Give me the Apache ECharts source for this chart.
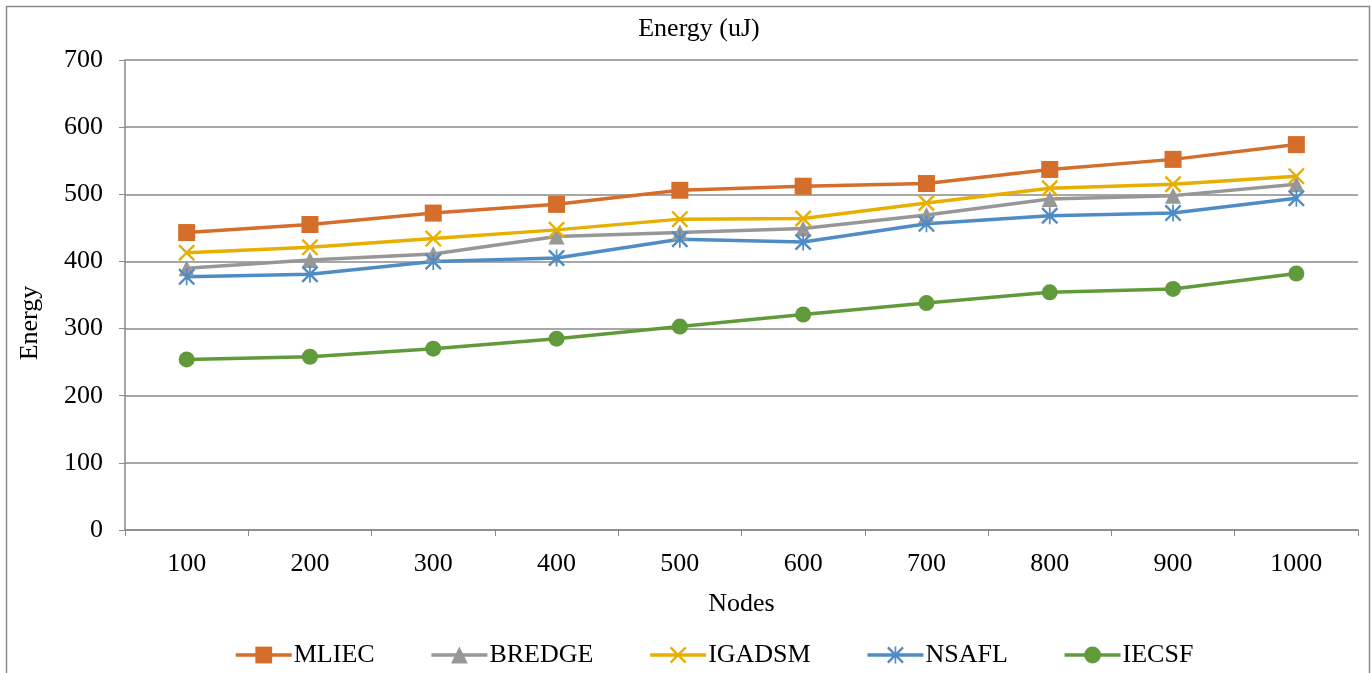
<!DOCTYPE html>
<html>
<head>
<meta charset="utf-8">
<script src="https://cdn.jsdelivr.net/npm/echarts@6/dist/echarts.min.js"></script>
<style>html,body{margin:0;padding:0;background:#fff}#c{width:1371px;height:673px}</style>
</head>
<body>
<div id="c"></div>
<script>
const categories = ['100','200','300','400','500','600','700','800','900','1000'];
const MLIEC  = [443, 455, 472, 485, 506, 512, 516, 537, 552, 574];
const BREDGE = [390, 402, 411, 437, 443, 449, 469, 493, 498, 515];
const IGADSM = [413, 421, 434, 447, 463, 464, 487, 509, 515, 527];
const NSAFL  = [377, 381, 400, 405, 433, 429, 456, 468, 472, 494];
const IECSF  = [254, 258, 270, 285, 303, 321, 338, 354, 359, 382];
const seriesNames = ['MLIEC','BREDGE','IGADSM','NSAFL','IECSF'];
const yTicks = [0, 700, 100];

const FONT = '"Liberation Serif", "Times New Roman", serif';
const xSym = 'path://M0,1 L1,0 L10,9 L9,10 Z M9,0 L10,1 L1,10 L0,9 Z';
const starSym = 'path://M0,1 L1,0 L10,9 L9,10 Z M9,0 L10,1 L1,10 L0,9 Z M4.5,0 L5.5,0 L5.5,10 L4.5,10 Z';

function mk(name, data, color, symbol, size) {
  return {
    name, type: 'line', data,
    symbol, symbolSize: size,
    showAllSymbol: true,
    lineStyle: { color, width: 3.5 },
    itemStyle: { color },
    emphasis: { disabled: true },
    animation: false
  };
}

const chart = echarts.init(document.getElementById('c'), null, { renderer: 'canvas' });
chart.setOption({
  animation: false,
  backgroundColor: '#fff',
  textStyle: { fontFamily: FONT, color: '#000' },
  title: {
    text: 'Energy (uJ)', top: 11, left: 694, textAlign: 'center',
    textStyle: { fontFamily: FONT, fontSize: 26, fontWeight: 'normal', color: '#000' }
  },
  graphic: [{
    type: 'rect', left: 4, top: 4, shape: { width: 1363, height: 700 },
    style: { fill: 'none', stroke: '#8a8a8a', lineWidth: 1.5 }, silent: true, z: -1
  }, {
    type: 'text', x: 30, y: 323, rotation: Math.PI / 2,
    style: { text: 'Energy', fill: '#000', font: '26px ' + FONT, align: 'center', verticalAlign: 'middle' },
    silent: true
  }],
  grid: { left: 125, right: 13, top: 60, bottom: 143, containLabel: false },
  legend: {
    left: 229, bottom: 0,
    itemWidth: 56, itemHeight: 21, itemGap: 55,
    lineStyle: { width: 3.5 },
    textStyle: { fontFamily: FONT, fontSize: 26, color: '#000', padding: [0,0,0,-3] },
    data: seriesNames
  },
  xAxis: {
    type: 'category', data: categories, boundaryGap: true,
    name: 'Nodes', nameLocation: 'middle', nameGap: 61,
    nameTextStyle: { fontFamily: FONT, fontSize: 26, color: '#000' },
    axisLine: { lineStyle: { color: '#8a8a8a', width: 1.5 } },
    axisTick: { show: true, length: 6, interval: 0, lineStyle: { color: '#8a8a8a' } },
    axisLabel: { fontFamily: FONT, fontSize: 26, color: '#000', margin: 21, interval: 0 },
    splitLine: { show: false }
  },
  yAxis: {
    type: 'value', min: yTicks[0], max: yTicks[1], interval: yTicks[2],
    axisLine: { show: true, lineStyle: { color: '#8a8a8a', width: 1.5 } },
    axisTick: { show: true, length: 6, lineStyle: { color: '#8a8a8a' } },
    axisLabel: { fontFamily: FONT, fontSize: 26, color: '#000', margin: 22 },
    splitLine: { show: true, lineStyle: { color: '#8a8a8a', width: 1.5 } }
  },
  series: [
    mk('MLIEC', MLIEC, '#D46E2A', 'rect', 17),
    mk('BREDGE', BREDGE, '#979797', 'triangle', 16),
    mk('IGADSM', IGADSM, '#E8AE00', xSym, 17),
    mk('NSAFL', NSAFL, '#4F8CC5', starSym, 17),
    mk('IECSF', IECSF, '#619A3B', 'circle', 16)
  ]
});
</script>
</body>
</html>
